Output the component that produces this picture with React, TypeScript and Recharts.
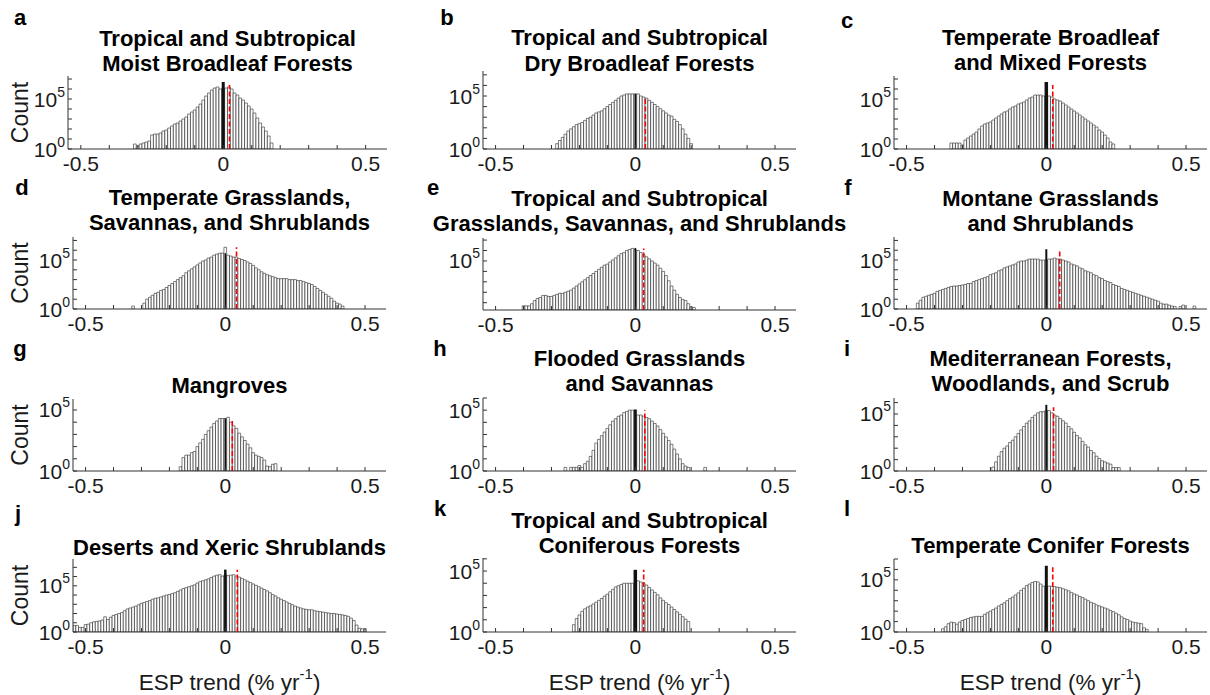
import React from "react";
import { Bar, BarChart, ReferenceLine, XAxis, YAxis } from "recharts";

const FONT = "'Liberation Sans', Arial, Helvetica, sans-serif";
const TXT = "#1a1a1a";
const AXIS = "#333333";

const BIN_WIDTH = 0.01;
const X_DOMAIN: [number, number] = [-0.545, 0.575];
const X_TICKS = [-0.5, -0.4, -0.3, -0.2, -0.1, 0, 0.1, 0.2, 0.3, 0.4, 0.5];
const X_TICK_LABELS = ["-0.5", "0", "0.5"];

const letters = ["a", "b", "c", "d", "e", "f", "g", "h", "i", "j", "k", "l"];
const titles = [
  ["Tropical and Subtropical", "Moist Broadleaf Forests"],
  ["Tropical and Subtropical", "Dry Broadleaf Forests"],
  ["Temperate Broadleaf", "and Mixed Forests"],
  ["Temperate Grasslands,", "Savannas, and Shrublands"],
  ["Tropical and Subtropical", "Grasslands, Savannas, and Shrublands"],
  ["Montane Grasslands", "and Shrublands"],
  ["Mangroves"],
  ["Flooded Grasslands", "and Savannas"],
  ["Mediterranean Forests,", "Woodlands, and Scrub"],
  ["Deserts and Xeric Shrublands"],
  ["Tropical and Subtropical", "Coniferous Forests"],
  ["Temperate Conifer Forests"],
];

const binStarts = [-0.31, -0.28, -0.34, -0.33, -0.4, -0.46, -0.16, -0.25, -0.19, -0.54, -0.22, -0.37];

const aLog = [0.5, 0.3, 0.5, 0.6, 0.7, 0.8, 1.4, 1.5, 1.5, 1.6, 1.8, 1.9, 2.1, 2.3, 2.5, 2.6, 2.8, 3.0, 3.2, 3.5, 3.7, 3.9, 4.2, 4.5, 4.9, 5.3, 5.6, 5.9, 6.1, 6.2, 6.0, 6.1, 6.1, 6.2, 6.0, 5.6, 5.4, 5.1, 4.9, 4.6, 4.3, 4.0, 3.6, 3.1, 2.6, 2.2, 1.8, 1.3, 0.6];
const bLog = [0.5, 0.8, 1.1, 1.4, 1.7, 1.9, 2.1, 2.3, 2.4, 2.5, 2.7, 2.9, 3.0, 3.2, 3.4, 3.5, 3.6, 3.8, 4.0, 4.2, 4.4, 4.6, 4.8, 5.0, 5.1, 5.2, 5.2, 5.2, 5.2, 5.2, 5.0, 4.9, 4.8, 4.6, 4.4, 4.2, 4.0, 3.8, 3.6, 3.4, 3.2, 3.1, 2.8, 2.6, 2.3, 1.9, 1.4, 1.0, 0.5];
const cLog = [0.6, 0.6, 0.6, 0.6, 0.4, 0.9, 1.1, 1.3, 1.5, 1.7, 2.0, 2.3, 2.5, 2.6, 2.7, 2.9, 3.1, 3.3, 3.5, 3.7, 3.8, 4.0, 4.2, 4.3, 4.5, 4.6, 4.7, 4.9, 5.1, 5.2, 5.4, 5.4, 5.4, 5.3, 5.3, 5.3, 5.2, 5.0, 4.9, 4.8, 4.6, 4.4, 4.2, 4.0, 3.8, 3.6, 3.4, 3.2, 3.0, 2.8, 2.6, 2.4, 2.2, 1.9, 1.7, 1.4, 1.1, 0.7, 0.5];
const dLog = [0.3, 0, 0, 0, 0.6, 1.0, 1.2, 1.4, 1.6, 1.7, 1.9, 2.0, 2.2, 2.4, 2.6, 2.8, 3.0, 3.2, 3.4, 3.7, 3.9, 4.1, 4.3, 4.5, 4.7, 4.9, 5.0, 5.2, 5.3, 5.5, 5.6, 5.7, 5.7, 6.3, 5.5, 5.4, 5.3, 5.3, 5.15, 5.05, 4.95, 4.8, 4.65, 4.45, 4.2, 4.0, 3.8, 3.65, 3.5, 3.4, 3.3, 3.2, 3.1, 3.1, 3.1, 3.1, 3.0, 3.0, 3.0, 2.9, 2.9, 2.8, 2.7, 2.6, 2.5, 2.3, 2.1, 1.9, 1.7, 1.5, 1.3, 1.1, 0.8, 0.6, 0.5, 0.3];
const eLog = [0.7, 0.7, 0.7, 0.9, 1.2, 1.4, 1.5, 1.7, 1.7, 1.6, 1.6, 1.7, 1.8, 1.9, 1.9, 2.0, 2.1, 2.2, 2.4, 2.6, 2.8, 3.0, 3.2, 3.4, 3.6, 3.8, 4.0, 4.2, 4.4, 4.6, 4.7, 4.9, 5.1, 5.3, 5.5, 5.7, 5.8, 6.0, 6.1, 6.2, 6.1, 6.0, 5.8, 5.6, 5.4, 5.2, 5.0, 4.8, 4.6, 4.3, 4.0, 3.6, 3.1, 2.6, 2.2, 1.8, 1.5, 1.3, 1.2, 0.9, 0.6, 0.55];
const fLog = [0.6, 0.9, 1.2, 1.3, 1.4, 1.5, 1.6, 1.8, 1.9, 2.0, 2.1, 2.2, 2.3, 2.35, 2.35, 2.4, 2.45, 2.5, 2.6, 2.6, 2.8, 2.9, 3.0, 3.1, 3.2, 3.3, 3.5, 3.6, 3.7, 3.9, 4.0, 4.2, 4.3, 4.4, 4.5, 4.6, 4.8, 4.9, 4.9, 5.0, 5.1, 5.1, 5.1, 5.1, 5.0, 5.0, 5.0, 5.1, 5.1, 5.2, 5.1, 5.1, 5.0, 4.9, 4.8, 4.6, 4.5, 4.4, 4.2, 4.1, 3.9, 3.8, 3.7, 3.5, 3.4, 3.2, 3.1, 2.9, 2.8, 2.7, 2.5, 2.4, 2.3, 2.1, 2.0, 1.9, 1.8, 1.7, 1.6, 1.5, 1.4, 1.3, 1.2, 1.1, 1.0, 0.9, 0.8, 0.6, 0.5, 0.5, 0.4, 0.3, 0.25, 0, 0.25, 0.4, 0, 0, 0, 0.3];
const gLog = [0.35, 1.1, 1.3, 1.3, 1.5, 1.6, 2.0, 2.3, 2.6, 3.0, 3.3, 3.6, 3.9, 4.1, 4.3, 4.3, 4.3, 4.4, 4.0, 3.7, 3.5, 3.1, 2.8, 2.5, 2.2, 1.9, 1.5, 1.3, 1.2, 1.1, 0.9, 0.4, 0.35, 0.55, 0.6];
const hLog = [0.3, 0, 0.3, 0.3, 0.3, 0.45, 0.3, 0.6, 0.8, 1.2, 1.7, 2.3, 2.6, 2.9, 3.2, 3.5, 3.8, 4.1, 4.3, 4.5, 4.6, 4.8, 4.9, 5.0, 5.0, 5.0, 4.6, 4.6, 4.5, 4.4, 4.3, 4.1, 3.9, 3.7, 3.4, 3.1, 2.8, 2.5, 2.2, 1.8, 1.4, 1.0, 0.6, 0.4, 0.3, 0, 0, 0, 0, 0, 0.3];
const iLog = [0.35, 0.8, 1.3, 1.7, 2.0, 2.2, 2.5, 2.7, 3.0, 3.3, 3.6, 3.9, 4.2, 4.4, 4.7, 4.9, 5.1, 5.2, 5.2, 5.3, 5.3, 5.1, 4.9, 4.8, 4.6, 4.4, 4.2, 3.9, 3.7, 3.4, 3.1, 2.9, 2.6, 2.3, 2.1, 1.8, 1.6, 1.3, 1.1, 0.9, 0.8, 0.7, 0.6, 0.3, 0.3, 0.3];
const jLog = [0.7, 0.7, 0.5, 0.5, 0.8, 0.85, 1.0, 1.1, 1.15, 1.2, 1.3, 1.65, 1.35, 1.6, 1.8, 1.9, 2.0, 2.1, 2.3, 2.5, 2.6, 2.7, 2.8, 2.95, 3.1, 3.2, 3.3, 3.4, 3.55, 3.65, 3.7, 3.8, 3.9, 4.0, 4.05, 4.15, 4.25, 4.4, 4.55, 4.7, 4.8, 4.9, 5.0, 5.1, 5.3, 5.45, 5.55, 5.65, 5.75, 5.9, 6.05, 6.15, 6.2, 6.05, 6.2, 6.1, 6.15, 6.2, 6.05, 5.95, 5.8, 5.65, 5.5, 5.35, 5.2, 5.05, 4.9, 4.75, 4.6, 4.45, 4.25, 4.05, 3.9, 3.7, 3.55, 3.4, 3.25, 3.1, 2.95, 2.8, 2.7, 2.6, 2.5, 2.45, 2.4, 2.4, 2.3, 2.25, 2.2, 2.15, 2.1, 2.05, 2.0, 2.0, 1.95, 1.9, 1.85, 1.8, 1.7, 1.5, 1.25, 0.75, 0.4, 0.35, 0.35];
const kLog = [0.6, 1.1, 1.4, 1.7, 1.9, 2.05, 2.15, 2.3, 2.45, 2.6, 2.75, 2.95, 3.1, 3.3, 3.5, 3.7, 3.8, 3.9, 4.0, 4.0, 4.0, 4.0, 4.0, 4.2, 4.1, 4.0, 3.85, 3.65, 3.45, 3.25, 3.05, 2.8, 2.6, 2.4, 2.25, 2.05, 1.85, 1.65, 1.45, 1.25, 1.05, 0.85];
const lLog = [0.3, 0.5, 0.8, 0.95, 0.9, 0.75, 0.95, 1.1, 1.2, 1.3, 1.4, 1.45, 1.5, 1.5, 1.5, 1.7, 1.85, 2.0, 2.15, 2.3, 2.5, 2.65, 2.8, 3.0, 3.2, 3.35, 3.55, 3.75, 4.0, 4.2, 4.45, 4.6, 4.75, 4.85, 4.8, 4.6, 4.4, 4.4, 4.4, 4.4, 4.35, 4.3, 4.25, 4.15, 4.05, 3.95, 3.8, 3.65, 3.55, 3.4, 3.3, 3.15, 3.0, 2.85, 2.75, 2.6, 2.5, 2.4, 2.3, 2.2, 2.05, 1.95, 1.8, 1.65, 1.45, 1.3, 1.2, 1.05, 0.95, 0.9, 0.85, 0.8, 0.4, 0.25];

const logCounts = [aLog, bLog, cLog, dLog, eLog, fLog, gLog, hLog, iLog, jLog, kLog, lLog];

// spike of the zero bin (black), mean trend (red dashed) and its drawn height
const zeroPeaks = [6.7, 5.2, 6.7, 5.7, 6.25, 6.1, 4.3, 5.05, 5.8, 6.75, 5.1, 6.35];
const meanTrends = [0.022, 0.036, 0.023, 0.04, 0.03, 0.048, 0.025, 0.034, 0.026, 0.043, 0.03, 0.023];
const meanLineTops = [6.4, 4.9, 6.4, 6.3, 6.2, 6.1, 4.3, 5.0, 5.6, 6.75, 5.1, 6.2];

// log10 limits of every y axis
const yMins = [0, 0, 0, 0, 0.3, 0, 0, 0, 0, 0, 0, 0];
const yMaxs = [7.3, 7.36, 7.3, 7.35, 7.2, 7.35, 5.9, 6.0, 6.4, 7.9, 6.07, 7.0];
const Y_LABELLED = [0, 5];

// plot boxes [left, top, width, height] in page pixels
const boxes = [
  [68, 76, 319, 73], [483, 71, 313, 78], [894, 76, 313, 73],
  [73, 237, 313, 72], [483, 238, 313, 72], [894, 237, 313, 72],
  [73, 399, 313, 72], [483, 398, 313, 73], [894, 398, 313, 73],
  [73, 559, 313, 73], [483, 558, 313, 74], [894, 559, 313, 73],
];
const titleLineY = [
  [38, 63], [37, 63], [37, 62],
  [197, 222], [198, 223], [198, 223],
  [385], [358, 383], [358, 383],
  [547], [520, 545], [545],
];
const letterPos = [
  [20, 17], [447, 17], [847, 20],
  [22, 187], [433, 187], [848, 187],
  [20, 348], [440, 348], [847, 348],
  [18, 513], [440, 508], [847, 508],
];
const spikeWidths = [3, 1.5, 3.5, 1.5, 1.5, 2, 1.5, 2.5, 2, 2.5, 3.5, 3];

const Y_AXIS_W = 64;
const X_AXIS_H = 34;
const TOP_PAD = 6;
const RIGHT_PAD = 6;
const TICK_FS = 21;

function fmtX(v: number) {
  const s = Math.abs(v) < 1e-9 ? "0" : String(Math.round(v * 10) / 10);
  return X_TICK_LABELS.includes(s) ? s : "";
}

function YTick(props: any) {
  const { x, y, payload } = props;
  if (!Y_LABELLED.includes(payload.value)) return <g />;
  return (
    <text x={x} y={y} textAnchor="end" fill={TXT} fontFamily={FONT} fontSize={TICK_FS}>
      <tspan dy={7.5}>10</tspan>
      <tspan dy={-10} fontSize={14}>{payload.value}</tspan>
    </text>
  );
}

function Panel({ idx }: { idx: number }) {
  const [bx, by, bw, bh] = boxes[idx];
  const yMin = yMins[idx];
  const yMax = yMaxs[idx];
  const rows = logCounts[idx]
    .map((v, i) => ({ x: Math.round((binStarts[idx] + i * BIN_WIDTH) * 100) / 100, v }))
    .filter((r) => r.v > yMin);
  const yTicks = [0, 1, 2, 3, 4, 5, 6, 7].filter((t) => t >= yMin && t <= yMax);
  const barW = (bw / (X_DOMAIN[1] - X_DOMAIN[0])) * BIN_WIDTH * 0.97;
  const width = Y_AXIS_W + bw + RIGHT_PAD;
  const height = TOP_PAD + bh + X_AXIS_H;

  return (
    <div style={{ position: "absolute", left: bx - Y_AXIS_W, top: by - TOP_PAD }}>
      <BarChart
        width={width}
        height={height}
        data={rows}
        margin={{ top: TOP_PAD, right: RIGHT_PAD, left: 0, bottom: 0 }}
        barCategoryGap={0}
        barGap={0}
      >
        <XAxis
          xAxisId="main"
          dataKey="x"
          type="number"
          domain={X_DOMAIN}
          allowDataOverflow
          ticks={X_TICKS}
          interval={0}
          tickFormatter={fmtX}
          height={X_AXIS_H}
          tickSize={-4}
          tickMargin={11}
          stroke={AXIS}
          tick={{ fill: TXT, fontSize: TICK_FS, fontFamily: FONT }}
        />
        <XAxis
          xAxisId="top"
          orientation="top"
          dataKey="x"
          type="number"
          domain={X_DOMAIN}
          allowDataOverflow
          ticks={X_TICKS}
          interval={0}
          height={0}
          tickSize={-4}
          tick={false}
          stroke={AXIS}
        />
        <YAxis
          yAxisId="main"
          type="number"
          domain={[yMin, yMax]}
          allowDataOverflow
          ticks={yTicks}
          interval={0}
          width={Y_AXIS_W}
          tickSize={-4}
          tickMargin={7}
          stroke={AXIS}
          tick={YTick}
        />
        <YAxis
          yAxisId="right"
          orientation="right"
          type="number"
          domain={[yMin, yMax]}
          allowDataOverflow
          ticks={yTicks}
          interval={0}
          width={0}
          tickSize={-4}
          tick={false}
          stroke={AXIS}
        />
        <Bar
          xAxisId="main"
          yAxisId="main"
          dataKey="v"
          fill="#ffffff"
          stroke="#000000"
          strokeWidth={0.5}
          barSize={barW}
          isAnimationActive={false}
        />
        <ReferenceLine
          xAxisId="main"
          yAxisId="main"
          segment={[{ x: 0, y: yMin }, { x: 0, y: zeroPeaks[idx] }]}
          stroke="#111111"
          strokeWidth={spikeWidths[idx]}
        />
        <ReferenceLine
          xAxisId="main"
          yAxisId="main"
          segment={[{ x: meanTrends[idx], y: yMin }, { x: meanTrends[idx], y: meanLineTops[idx] }]}
          stroke="#ff0000"
          strokeWidth={1.6}
          strokeDasharray="5 2.5"
        />
      </BarChart>
    </div>
  );
}

export default function App() {
  return (
    <div
      style={{
        position: "absolute",
        left: 0,
        top: 0,
        width: 1210,
        height: 695,
        background: "#ffffff",
        overflow: "hidden",
        fontFamily: FONT,
      }}
    >
      {boxes.map((_, i) => (
        <Panel key={i} idx={i} />
      ))}
      <svg
        width={1210}
        height={695}
        style={{ position: "absolute", left: 0, top: 0, pointerEvents: "none" }}
      >
        {letters.map((l, i) => (
          <text
            key={"l" + i}
            x={letterPos[i][0]}
            y={letterPos[i][1]}
            textAnchor="middle"
            dominantBaseline="central"
            fontFamily={FONT}
            fontWeight="bold"
            fontSize={22}
            fill="#000"
          >
            {l}
          </text>
        ))}
        {titles.map((lines, i) =>
          lines.map((t, j) => (
            <text
              key={"t" + i + "-" + j}
              x={boxes[i][0] + boxes[i][2] / 2}
              y={titleLineY[i][j]}
              textAnchor="middle"
              dominantBaseline="central"
              fontFamily={FONT}
              fontWeight="bold"
              fontSize={22}
              fill="#000"
            >
              {t}
            </text>
          ))
        )}
        {[0, 3, 6, 9].map((i) => (
          <text
            key={"c" + i}
            x={20}
            y={boxes[i][1] + boxes[i][3] / 2}
            transform={`rotate(-90 20 ${boxes[i][1] + boxes[i][3] / 2})`}
            textAnchor="middle"
            dominantBaseline="central"
            fontFamily={FONT}
            fontSize={23}
            fill={TXT}
          >
            Count
          </text>
        ))}
        {[9, 10, 11].map((i) => (
          <text
            key={"x" + i}
            x={boxes[i][0] + boxes[i][2] / 2}
            y={682}
            textAnchor="middle"
            dominantBaseline="central"
            fontFamily={FONT}
            fontSize={22.5}
            fill={TXT}
          >
            ESP trend (% yr
            <tspan dy={-9} fontSize={15}>-1</tspan>
            <tspan dy={9}>)</tspan>
          </text>
        ))}
      </svg>
    </div>
  );
}
